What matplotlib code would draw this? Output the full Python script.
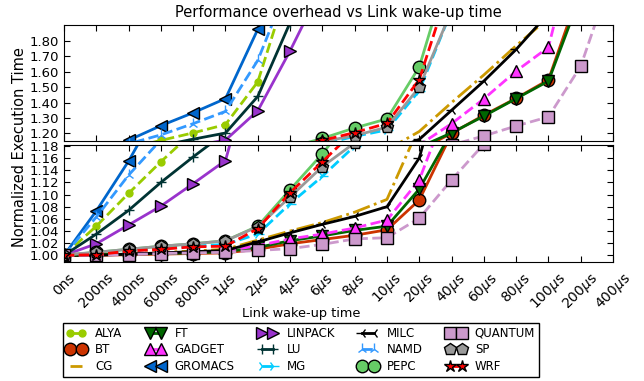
import numpy as np
import matplotlib
matplotlib.use("Agg")
import matplotlib.pyplot as plt

nan = np.nan

# Link wake-up latencies (x categories)
labels = ["0ns", "200ns", "400ns", "600ns", "800ns", r"1$\mu$s", r"2$\mu$s", r"4$\mu$s",
          r"6$\mu$s", r"8$\mu$s", r"10$\mu$s", r"20$\mu$s", r"40$\mu$s", r"60$\mu$s",
          r"80$\mu$s", r"100$\mu$s", r"200$\mu$s", r"400$\mu$s"]

# Normalized execution time per application
alya    = [1.000, 1.048, 1.102, 1.154, 1.203, 1.257, 1.535, 2.20, nan, nan, nan, nan, nan, nan, nan, nan, nan, nan]
bt      = [1.000, 1.000, 1.001, 1.002, 1.003, 1.004, 1.010, 1.019, 1.026, 1.033, 1.042, 1.091, 1.200, 1.318, 1.428, 1.548, 2.15, nan]
cg      = [1.000, 1.001, 1.003, 1.005, 1.007, 1.010, 1.025, 1.040, 1.054, 1.071, 1.092, 1.212, 1.400, 1.580, 1.770, 1.950, nan, nan]
ft      = [1.000, 1.001, 1.002, 1.003, 1.004, 1.006, 1.013, 1.024, 1.032, 1.041, 1.048, 1.109, 1.203, 1.312, 1.426, 1.540, 2.10, nan]
gadget  = [1.000, 1.001, 1.002, 1.004, 1.005, 1.007, 1.016, 1.027, 1.035, 1.045, 1.058, 1.124, 1.263, 1.424, 1.605, 1.760, 2.60, nan]
gromacs = [1.000, 1.073, 1.155, 1.250, 1.334, 1.426, 1.877, 2.50, nan, nan, nan, nan, nan, nan, nan, nan, nan, nan]
linpack = [1.000, 1.019, 1.050, 1.081, 1.118, 1.156, 1.347, 1.737, 2.16, nan, nan, nan, nan, nan, nan, nan, nan, nan]
lu      = [1.000, 1.035, 1.074, 1.120, 1.162, 1.202, 1.440, 1.920, 2.40, nan, nan, nan, nan, nan, nan, nan, nan, nan]
mg      = [1.000, 1.003, 1.007, 1.011, 1.015, 1.018, 1.035, 1.085, 1.130, 1.180, 1.222, 1.478, 2.00, nan, nan, nan, nan, nan]
milc    = [1.000, 1.000, 1.002, 1.004, 1.006, 1.008, 1.022, 1.037, 1.051, 1.064, 1.080, 1.160, 1.350, 1.540, 1.746, 1.980, nan, nan]
namd    = [1.000, 1.063, 1.132, 1.190, 1.263, 1.343, 1.675, 2.20, nan, nan, nan, nan, nan, nan, nan, nan, nan, nan]
pepc    = [1.000, 1.005, 1.010, 1.015, 1.019, 1.024, 1.048, 1.108, 1.167, 1.235, 1.294, 1.632, 2.33, nan, nan, nan, nan, nan]
quantum = [1.000, 1.000, 1.001, 1.003, 1.004, 1.005, 1.008, 1.011, 1.018, 1.027, 1.029, 1.061, 1.124, 1.183, 1.248, 1.307, 1.637, 2.25]
sp      = [1.001, 1.005, 1.010, 1.015, 1.019, 1.024, 1.047, 1.096, 1.146, 1.185, 1.240, 1.500, 2.00, nan, nan, nan, nan, nan]
wrf     = [1.000, 1.001, 1.007, 1.010, 1.014, 1.015, 1.044, 1.103, 1.154, 1.205, 1.265, 1.550, 2.20, nan, nan, nan, nan, nan]

# name, values, color, linestyle, marker, markersize
series = [
    ("ALYA", alya, "#99CC00", "--", "o", 5),
    ("BT", bt, "#CC3300", "-", "o", 9),
    ("CG", cg, "#CC9900", "-.", "None", 0),
    ("FT", ft, "#006600", "-", "v", 9),
    ("GADGET", gadget, "#FF33FF", "--", "^", 9),
    ("GROMACS", gromacs, "#0066CC", "-", "<", 9),
    ("LINPACK", linpack, "#9933CC", "-", ">", 9),
    ("LU", lu, "#003333", "-", "+", 7),
    ("MG", mg, "#00CCFF", "--", "4", 8),
    ("MILC", milc, "black", "-", "3", 8),
    ("NAMD", namd, "#3399FF", "--", "2", 8),
    ("PEPC", pepc, "#66CC66", "-", "o", 9),
    ("QUANTUM", quantum, "#CC99CC", "--", "s", 9),
    ("SP", sp, "#999999", "-", "p", 9),
    ("WRF", wrf, "#FF0000", "--", "*", 9),
]

plt.rcParams["font.family"] = "DejaVu Sans"
plt.rcParams["xtick.direction"] = "in"
plt.rcParams["ytick.direction"] = "in"
plt.rcParams["xtick.top"] = True
plt.rcParams["ytick.right"] = True

fig = plt.figure(figsize=(6.44, 3.81), dpi=100)
ax_top = fig.add_axes([0.0994, 0.6299, 0.8525, 0.3045])
ax_bot = fig.add_axes([0.0994, 0.3123, 0.8525, 0.3071])

x = np.arange(len(labels))
for ax in (ax_top, ax_bot):
    for name, vals, col, ls, mk, ms in series:
        filled = mk in ("o", "v", "^", "<", ">", "s", "p", "*")
        mec = "black" if (filled and name != "ALYA") else col
        ax.plot(x, vals, color=col, linestyle=ls, linewidth=2, marker=mk,
                markersize=ms, markerfacecolor=col, markeredgecolor=mec,
                markeredgewidth=1, label=name)
    ax.set_xlim(0, len(labels) - 1)
    ax.set_xticks(x)
    ax.tick_params(labelsize=9.5, length=4)

# upper part of the broken axis
ax_top.set_ylim(1.15, 1.905)
ax_top.set_yticks(np.arange(1.2, 1.81, 0.1))
ax_top.set_yticklabels(["%.2f" % v for v in np.arange(1.2, 1.81, 0.1)])
ax_top.set_xticklabels([])
ax_top.set_title("Performance overhead vs Link wake-up time", fontsize=10.5)

# lower part
ax_bot.set_ylim(0.989, 1.1815)
ax_bot.set_yticks(np.arange(1.0, 1.181, 0.02))
ax_bot.set_yticklabels(["%.2f" % v for v in np.arange(1.0, 1.181, 0.02)])
ax_bot.set_xticklabels(labels, rotation=45)
ax_bot.tick_params(axis="x", pad=6, labelsize=10)

fig.text(0.031, 0.613, "Normalized Execution Time", rotation=90,
         ha="center", va="center", fontsize=10.5)
fig.text(0.4675, 0.178, "Link wake-up time", ha="center", va="center", fontsize=9.3)

handles, names = ax_bot.get_legend_handles_labels()
leg = fig.legend(handles, names, ncol=5, loc="center", bbox_to_anchor=(0.4675, 0.0814),
                 fontsize=8.5, numpoints=2, handlelength=1.6, fancybox=False,
                 framealpha=1, edgecolor="black", labelspacing=0.3,
                 columnspacing=2.0, borderpad=0.3, handletextpad=0.8)
leg.get_frame().set_linewidth(1)

fig.savefig("out.png", dpi=100)
